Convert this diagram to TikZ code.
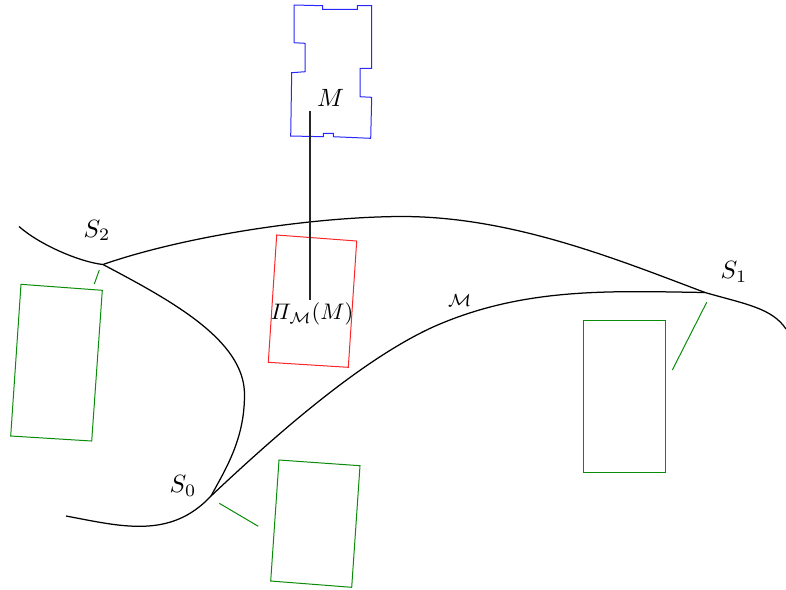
\documentclass[tikz,border=0pt]{standalone}
\usepackage{amsmath}
\begin{document}
\begin{tikzpicture}[x=0.4pt,y=-0.4pt,
  curve/.style={line width=0.5pt,black},
  gbox/.style={line width=0.4pt,draw={rgb,255:red,10;green,140;blue,10}},
  rbox/.style={line width=0.4pt,draw={rgb,255:red,250;green,40;blue,40}},
  bbox/.style={line width=0.4pt,draw={rgb,255:red,40;green,40;blue,250}},
  lab/.style={inner sep=0pt}]
\useasboundingbox (0,0) rectangle (786,589);
% key points
\coordinate (S0) at (211,496);
\coordinate (S1) at (705,292.5);
\coordinate (S2) at (103,264.5);
\coordinate (A0) at (66,516);
\coordinate (A1) at (433,327);
\coordinate (A2) at (786,329);
\coordinate (B0) at (19,226.5);
\coordinate (B1) at (244.5,395);
\coordinate (C1) at (400,216.5);
% curves
\draw[curve] (A0) .. controls (120,526) and (170,540) .. (S0)
  .. controls (281,430) and (363,359) .. (A1)
  .. controls (523,287) and (610,291) .. (S1)
  .. controls (745,304) and (772,308) .. (A2);
\draw[curve] (B0) .. controls (40,245) and (80,262) .. (S2)
  .. controls (170,300) and (245,340) .. (B1)
  .. controls (244.5,440) and (225,470) .. (S0);
\draw[curve] (S2) .. controls (183,236.5) and (310,217) .. (C1)
  .. controls (510,216) and (615,258.5) .. (S1);
% blue region M
\draw[bbox] (294,5) -- (322.7,5.7) -- (322.7,9.3) -- (357.3,9.3) -- (357.3,5.7) -- (371.7,5.7)
  -- (371.7,68.3) -- (360,68.3) -- (360,96.7) -- (371.7,97.3) -- (370.7,138.3)
  -- (333.3,136.7) -- (333.3,133.3) -- (323.3,133.3) -- (323.3,136.7) -- (290.7,136)
  -- (291.7,72.7) -- (305,71.7) -- (305,43.3) -- (294,42.7) -- cycle;
\node[lab] (M) at (330.5,98) {$M$};
% red projection box
\draw[rbox] (276.7,235) -- (356.7,241) -- (348.3,367.3) -- (268.3,362.3) -- cycle;
\node[lab,scale=0.9] (PM) at (312,314) {$\varPi_{\mathcal{M}}(M)$};
\coordinate (Mtop) at (310,110.5);
\coordinate (Mbot) at (310,300);
\draw[line width=0.5pt,black!85] (Mtop) -- (Mbot);
% manifold label
\node[lab] (cM) at (459.5,301) {$\scriptstyle\mathcal{M}$};
% labels S
\node[lab] (LS0) at (183,486) {$S_0$};
\node[lab] (LS1) at (734,272) {$S_1$};
\node[lab] (LS2) at (97,230.5) {$S_2$};
% green boxes
\draw[gbox] (21,284.3) -- (102.3,290.3) -- (91.7,441) -- (10.7,436) -- cycle;
\draw[gbox] (279,460) -- (360,465.7) -- (351.7,587.3) -- (270.7,581) -- cycle;
\draw[gbox] (583.3,320.7) rectangle (665,472.7);
% green ticks
\coordinate (t2a) at (99.3,270); \coordinate (t2b) at (94.3,284);
\coordinate (t0a) at (219.3,503.3); \coordinate (t0b) at (258.3,526.3);
\coordinate (t1a) at (706.7,302.3); \coordinate (t1b) at (672.3,370);
\draw[gbox] (t2a) -- (t2b);
\draw[gbox] (t0a) -- (t0b);
\draw[gbox] (t1a) -- (t1b);
\end{tikzpicture}
\end{document}
